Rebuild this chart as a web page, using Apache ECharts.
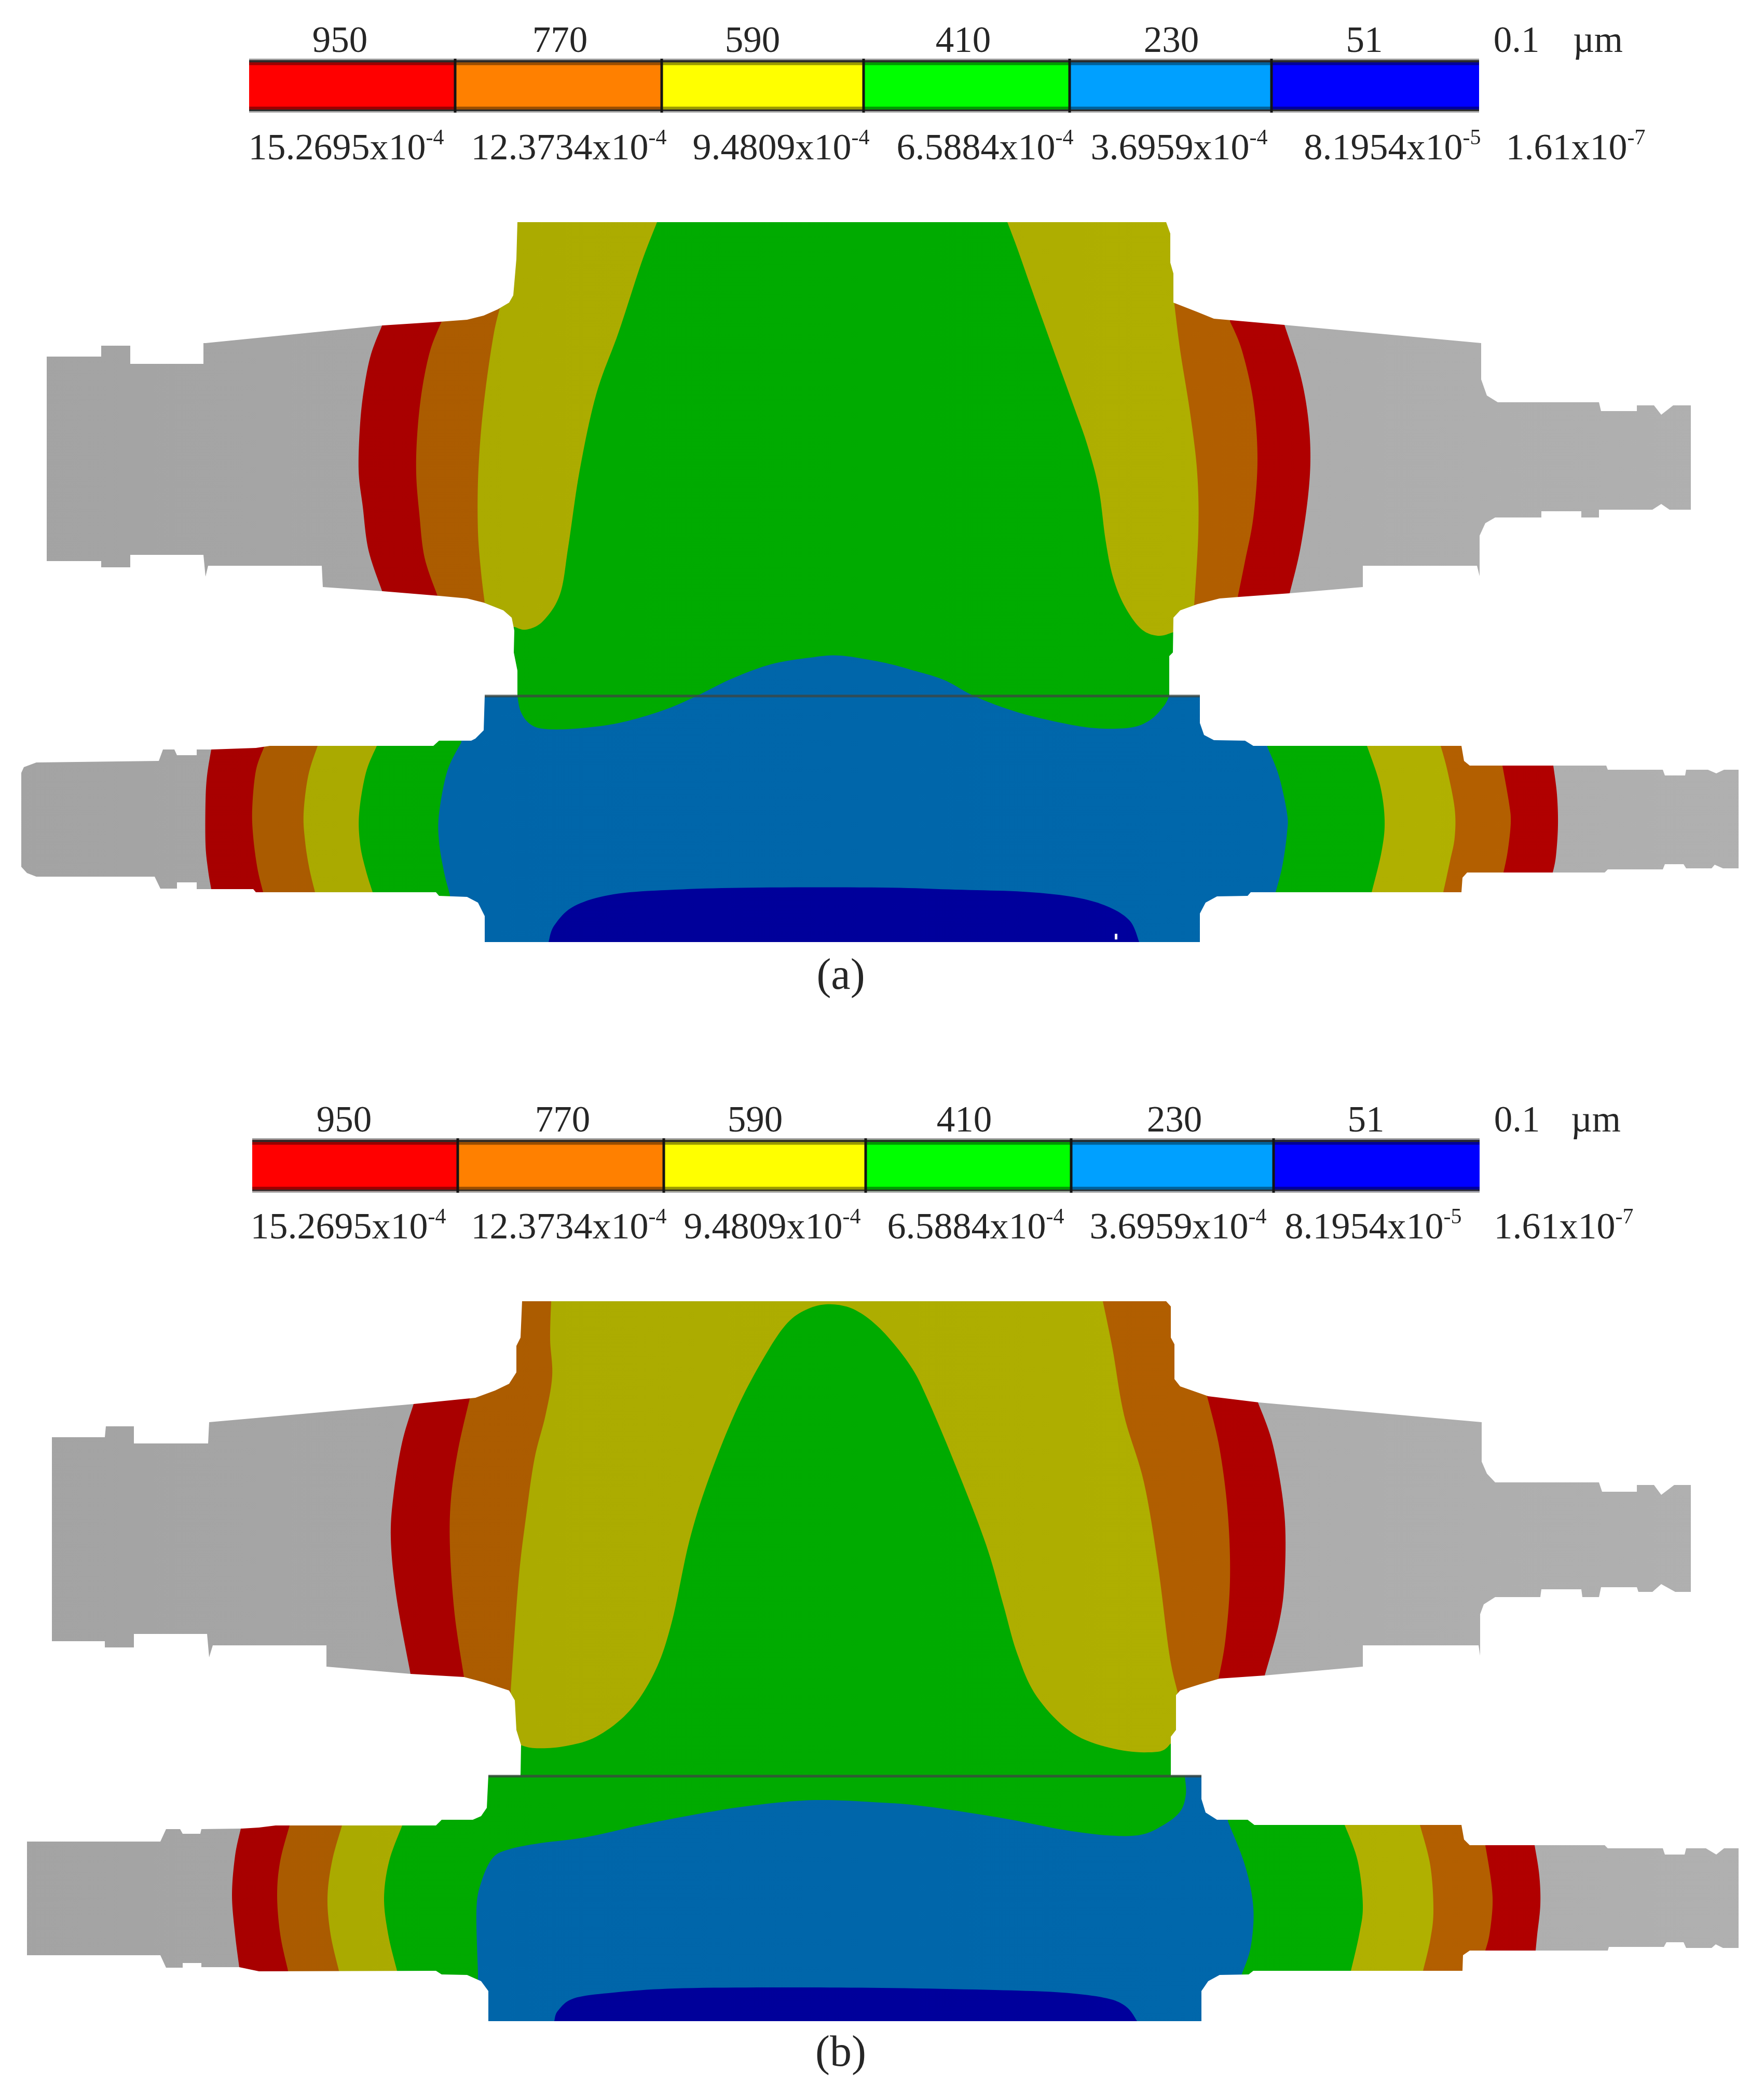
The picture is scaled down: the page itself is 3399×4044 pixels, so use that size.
<!DOCTYPE html>
<html>
<head>
<meta charset="utf-8">
<style>html,body{margin:0;padding:0;background:#fff}#c{width:3399px;height:4044px}</style>
<script src="https://cdn.jsdelivr.net/npm/echarts@6/dist/echarts.min.js"></script>
</head>
<body>
<div id="c"></div>
<script>
// ---------- text ----------
const topLabels = ['950','770','590','410','230','51','0.1','µm'];
const bottomMantissas = ['15.2695x10','12.3734x10','9.4809x10','6.5884x10','3.6959x10','8.1954x10','1.61x10'];
const bottomExponents = ['-4','-4','-4','-4','-4','-5','-7'];
const panelLabels = ['(a)','(b)'];
const barColors = ['#ff0000','#ff8000','#ffff00','#00ff00','#00a0ff','#0000ff'];

// ---------- colour bars ----------
const barEdgesA = [480,877,1275,1664,2061,2450,2850];
const barEdgesB = [486,882,1279,1668,2064,2454,2851];
const barSpanA = [113,217];
const barSpanB = [2193,2298];

// ---------- figure (a): outline of the two parts ----------
const aUpperLeftEdge = [[997,428],[995,499],[989,569],[981,583],[959,596],[932,608],[900,616],[846,620],[737,627],[396,661],[392,661],[392,701],[251,701],[251,666],[195,666],[195,687],[90,687],[90,1081],[195,1081],[195,1093],[251,1093],[251,1069],[392,1069],[396,1111],[401,1090],[620,1090],[622,1131],[737,1139],[846,1148],[900,1153],[932,1161],[970,1176],[986,1190],[991,1215],[990,1257],[997,1292],[997,1341]];
const aLowerLeftEdge = [[934,1341],[932,1407],[916,1423],[908,1427],[846,1427],[835,1437],[520,1437],[493,1441],[407,1444],[379,1444],[379,1455],[341,1455],[336,1444],[314,1444],[306,1466],[70,1469],[46,1478],[41,1489],[41,1670],[52,1682],[70,1689],[298,1689],[309,1712],[341,1712],[341,1700],[379,1700],[379,1713],[488,1713],[493,1719],[840,1719],[846,1726],[900,1728],[921,1739],[934,1765],[934,1815]];
const aLowerRightEdge = [[2312,1815],[2312,1760],[2323,1739],[2345,1727],[2404,1726],[2410,1719],[2816,1719],[2818,1691],[2827,1681],[3092,1681],[3098,1675],[3204,1675],[3208,1665],[3244,1665],[3249,1673],[3298,1673],[3304,1666],[3320,1673],[3350,1673],[3350,1483],[3322,1483],[3307,1490],[3291,1483],[3249,1483],[3247,1494],[3208,1494],[3204,1483],[3098,1483],[3095,1475],[2832,1475],[2821,1466],[2816,1437],[2415,1437],[2399,1427],[2339,1426],[2320,1416],[2312,1393],[2312,1341]];
const aUpperRightEdge = [[2253,1341],[2253,1264],[2260,1257],[2261,1190],[2274,1176],[2307,1164],[2350,1153],[2388,1150],[2485,1143],[2626,1131],[2626,1090],[2846,1090],[2851,1110],[2851,1032],[2862,1008],[2881,997],[2970,997],[2970,985],[3047,985],[3047,997],[3081,997],[3081,982],[3154,982],[3184,982],[3201,971],[3217,982],[3258,982],[3258,781],[3224,781],[3201,799],[3187,781],[3154,781],[3154,792],[3085,792],[3081,775],[2886,775],[2865,762],[2854,731],[2854,661],[2475,626],[2339,614],[2307,601],[2261,583],[2261,527],[2255,506],[2255,450],[2247,428]];

// figure (a), contour curves, upper part (top to bottom)
const aUpRedL = [[737,625],[715,682],[702,745],[694,815],[691,906],[699,976],[710,1060],[737,1141]];
const aUpOrgL = [[851,619],[829,675],[813,752],[804,836],[802,913],[808,990],[818,1074],[843,1148]];
const aUpYelL = [[963,594],[952,640],[938,731],[927,829],[921,927],[921,1025],[927,1103],[934,1162]];
const aUpYelR = [[2263,587],[2274,675],[2294,801],[2307,913],[2309,1025],[2301,1166]];
const aUpOrgR = [[2370,619],[2393,675],[2415,773],[2423,885],[2415,997],[2399,1081],[2385,1150]];
const aUpRedR = [[2475,626],[2505,720],[2520,800],[2525,880],[2520,960],[2505,1060],[2485,1143]];
const aGreenYellowL = [[1266,428],[1236,506],[1192,640],[1149,759],[1117,906],[1095,1053],[1079,1145],[1046,1197],[1014,1213],[992,1208]];
const aGreenBottom = [[997,1341],[1003,1370],[1019,1393],[1046,1404],[1106,1404],[1192,1393],[1279,1368],[1344,1340],[1409,1308],[1485,1280],[1561,1267],[1618,1263],[1700,1276],[1754,1290],[1819,1310],[1879,1342],[1960,1372],[2047,1393],[2112,1403],[2177,1402],[2215,1388],[2242,1361],[2253,1341]];
const aGreenYellowR = [[2261,1218],[2231,1225],[2198,1211],[2166,1166],[2144,1110],[2130,1039],[2117,941],[2095,857],[2068,780],[2025,661],[1987,555],[1960,478],[1941,428]];

// figure (a), contour curves, lower part (top to bottom)
const aLoRedL = [[407,1444],[399,1494],[396,1544],[396,1627],[401,1677],[407,1713]];
const aLoOrgL = [[509,1439],[493,1485],[486,1558],[488,1613],[496,1673],[507,1719]];
const aLoYelL = [[612,1437],[594,1494],[585,1567],[588,1622],[596,1673],[607,1719]];
const aLoGrnL = [[726,1437],[705,1489],[692,1567],[694,1627],[705,1677],[718,1719]];
const aLoBluL = [[889,1430],[862,1485],[846,1567],[846,1622],[856,1682],[867,1724]];
const aLoBluR = [[2442,1439],[2464,1494],[2480,1567],[2480,1604],[2471,1668],[2458,1719]];
const aLoGrnR = [[2634,1437],[2659,1512],[2668,1581],[2662,1641],[2643,1719]];
const aLoYelR = [[2776,1437],[2789,1485],[2803,1558],[2803,1613],[2794,1659],[2781,1719]];
const aLoOrgR = [[2895,1475],[2908,1549],[2911,1586],[2905,1641],[2897,1681]];
const aLoRedR = [[2993,1475],[3000,1530],[3002,1590],[2998,1650],[2992,1681]];
const aDome = [[1290,1335],[1290,1250],[1950,1250],[1950,1335]];
const aNavyTop = [[1057,1815],[1068,1783],[1106,1746],[1182,1723],[1301,1714],[1463,1710],[1700,1710],[1841,1714],[1971,1718],[2068,1728],[2133,1746],[2177,1774],[2195,1815]];
const aSpeck = [[2148,1799],[2153,1799],[2153,1810],[2148,1810]];

// ---------- figure (b): outline of the two parts ----------
const bUpperLeftEdge = [[1006,2507],[1003,2577],[995,2593],[995,2644],[981,2666],[954,2679],[916,2693],[797,2705],[403,2740],[401,2781],[258,2781],[258,2748],[204,2748],[202,2769],[100,2769],[100,3162],[202,3162],[202,3174],[258,3174],[258,3148],[399,3148],[403,3193],[410,3170],[629,3170],[629,3211],[791,3225],[894,3231],[932,3241],[981,3257],[992,3276],[995,3333],[1004,3362],[1003,3421]];
const bLowerLeftEdge = [[941,3421],[938,3483],[927,3499],[911,3506],[851,3506],[840,3517],[531,3517],[499,3521],[466,3523],[388,3524],[386,3533],[352,3533],[347,3524],[320,3524],[309,3548],[52,3548],[52,3767],[309,3767],[320,3791],[352,3791],[352,3782],[388,3782],[388,3790],[461,3790],[499,3798],[840,3797],[851,3804],[900,3805],[927,3817],[941,3836],[941,3894]];
const bLowerRightEdge = [[2315,3894],[2315,3836],[2328,3817],[2350,3805],[2406,3804],[2415,3797],[2818,3797],[2819,3767],[2832,3758],[3098,3758],[3100,3751],[3206,3751],[3211,3742],[3244,3742],[3249,3753],[3298,3753],[3306,3746],[3320,3753],[3350,3753],[3350,3561],[3322,3561],[3307,3573],[3287,3561],[3249,3561],[3246,3573],[3208,3573],[3204,3561],[3098,3561],[3092,3555],[2832,3555],[2821,3544],[2816,3516],[2417,3516],[2404,3506],[2345,3506],[2323,3492],[2315,3466],[2315,3421]];
const bUpperRightEdge = [[2256,3421],[2256,3346],[2266,3333],[2266,3266],[2274,3257],[2312,3245],[2350,3234],[2437,3228],[2626,3211],[2626,3170],[2849,3170],[2852,3190],[2852,3110],[2859,3091],[2881,3077],[2968,3077],[2970,3062],[3047,3062],[3049,3077],[3081,3077],[3085,3058],[3154,3058],[3157,3067],[3184,3067],[3201,3052],[3228,3067],[3258,3067],[3258,2861],[3226,2861],[3201,2880],[3187,2861],[3154,2861],[3154,2874],[3087,2874],[3081,2856],[2881,2856],[2865,2839],[2855,2816],[2855,2740],[2426,2702],[2328,2690],[2274,2671],[2263,2657],[2263,2590],[2256,2577],[2256,2517],[2247,2507]];

// figure (b), contour curves, upper part
const bUpRedL = [[797,2705],[775,2778],[759,2874],[753,2963],[764,3078],[791,3225]];
const bUpOrgL = [[905,2695],[883,2791],[869,2887],[867,2982],[876,3110],[894,3231]];
const bUpYelL = [[1062,2507],[1060,2580],[1064,2651],[1051,2727],[1030,2810],[1014,2919],[999,3046],[984,3257]];
const bUpYelR = [[2125,2507],[2144,2600],[2166,2727],[2204,2855],[2231,3014],[2253,3186],[2269,3260]];
const bUpOrgR = [[2326,2690],[2350,2791],[2366,2918],[2370,3046],[2361,3161],[2348,3234]];
const bUpRedR = [[2424,2702],[2453,2785],[2475,2918],[2475,3046],[2464,3129],[2437,3228]];
const bGreenTongue = [[1003,3362],[1030,3368],[1084,3365],[1149,3346],[1214,3295],[1263,3218],[1295,3123],[1328,2970],[1366,2848],[1420,2714],[1474,2612],[1518,2548],[1561,2520],[1604,2513],[1650,2525],[1700,2564],[1754,2631],[1787,2695],[1841,2823],[1900,2976],[1933,3091],[1960,3186],[1998,3269],[2068,3340],[2155,3371],[2231,3375],[2256,3359]];

// figure (b), contour curves, lower part
const bLoRedL = [[464,3523],[453,3575],[447,3651],[453,3727],[461,3790]];
const bLoOrgL = [[558,3517],[540,3585],[534,3651],[540,3727],[555,3797]];
const bLoYelL = [[659,3517],[640,3585],[631,3656],[637,3727],[653,3797]];
const bLoGrnL = [[775,3517],[750,3585],[740,3656],[748,3727],[765,3797]];
const bLoGrnR = [[2591,3516],[2616,3585],[2626,3670],[2619,3727],[2603,3797]];
const bLoYelR = [[2736,3516],[2756,3594],[2762,3680],[2756,3737],[2742,3797]];
const bLoOrgR = [[2862,3555],[2873,3623],[2876,3670],[2870,3727],[2862,3758]];
const bLoRedR = [[2957,3555],[2966,3613],[2968,3670],[2962,3727],[2959,3758]];
const bBlueTop = [[921,3803],[918,3680],[927,3627],[949,3580],[981,3563],[1041,3551],[1127,3540],[1236,3516],[1344,3495],[1453,3478],[1572,3468],[1700,3473],[1765,3478],[1852,3490],[1949,3506],[2047,3525],[2133,3536],[2198,3535],[2242,3516],[2274,3490],[2285,3457],[2283,3422]];
const bBlueRight = [[2366,3509],[2399,3594],[2415,3675],[2410,3751],[2393,3803]];
const bNavyTop = [[1068,3894],[1075,3874],[1106,3850],[1182,3839],[1301,3831],[1500,3829],[1700,3830],[1917,3834],[2047,3839],[2133,3850],[2171,3867],[2191,3894]];

// ---------- text placement ----------
const topLabelXA = [655,1079,1450,1856,2257,2629,2922,3079];
const topLabelXB = [663,1084,1455,1858,2263,2632,2923,3075];
const bottomLabelXA = [667,1096,1505,1898,2272,2683,3036];
const bottomLabelXB = [671,1096,1488,1880,2270,2646,3013];
const labelRowsA = [81,288];
const labelRowsB = [2161,2367];
const panelLabelPos = [[1620,1883],[1620,3958]];

// ---------- shades used on the contoured parts: left tint, right tint ----------
const shade = {
  gray:['#a3a3a3','#b0b0b0'], red:['#a60000','#b20000'], orange:['#a85a00','#b56000'],
  yellow:['#a8a800','#b2b200'], green:['#00a800','#00ae00'], blue:['#0064a8','#0068ac'], navy:['#000096','#0000a0']
};

// Catmull-Rom drawing of a contour curve between its read points
function spline(pts){
  const out=[]; const n=pts.length;
  for(let i=0;i<n-1;i++){
    const p0=pts[Math.max(i-1,0)],p1=pts[i],p2=pts[i+1],p3=pts[Math.min(i+2,n-1)];
    for(let k=0;k<10;k++){
      const t=k/10,t2=t*t,t3=t2*t;
      out.push([0,1].map(d=>0.5*(2*p1[d]+(p2[d]-p0[d])*t+(2*p0[d]-5*p1[d]+4*p2[d]-p3[d])*t2+(3*p1[d]-p0[d]-3*p2[d]+p3[d])*t3)));
    }
  }
  out.push(pts[n-1]);
  return out;
}
// region between a left and a right curve, run out straight up and down past the part
function band(L,R,top,bot,topPath){
  const l=spline(L), r=spline(R);
  return [[l[0][0],top],...(topPath||[]),[r[0][0],top],...r,[r[r.length-1][0],bot],[l[l.length-1][0],bot],...l.slice().reverse()];
}
const layers=[];
function add(points,c){layers.push({points,c});}

function rect(x0,y0,x1,y1){return [[x0,y0],[x1,y0],[x1,y1],[x0,y1]];}
function maskOf(outline,y0,y1){
  return [[0,y0],[3399,y0],[3399,y1],[0,y1],[0,y0],...outline,outline[0]];
}

// figure (a)
add(rect(0,395,3399,1850),'gray');
add(band(aUpRedL,aUpRedR,400,1300),'red');
add(band(aUpOrgL,aUpOrgR,400,1300),'orange');
add(band(aUpYelL,aUpYelR,400,1300),'yellow');
add(band(aLoRedL,aLoRedR,1335,1830),'red');
add(band(aLoOrgL,aLoOrgR,1335,1830),'orange');
add(band(aLoYelL,aLoYelR,1335,1830),'yellow');
add(band(aLoGrnL,aLoGrnR,1335,1830),'green');
add(band(aLoBluL,aLoBluR,1335,1830,aDome),'blue');
add([[1057,1830],...spline(aNavyTop),[2195,1830]],'navy');
add([[1266,400],...spline(aGreenYellowL),[985,1208],[985,1335],...spline(aGreenBottom),[2270,1335],[2270,1218],...spline(aGreenYellowR),[1941,400]],'green');
add(maskOf([...aUpperLeftEdge,...aLowerLeftEdge,...aLowerRightEdge,...aUpperRightEdge],395,1850),'white');
add(aSpeck,'white');

// figure (b)
add(rect(0,2470,3399,3925),'gray');
add(band(bUpRedL,bUpRedR,2480,3380),'red');
add(band(bUpOrgL,bUpOrgR,2480,3380),'orange');
add(band(bUpYelL,bUpYelR,2480,3380),'yellow');
add(band(bLoRedL,bLoRedR,3415,3910),'red');
add(band(bLoOrgL,bLoOrgR,3415,3910),'orange');
add(band(bLoYelL,bLoYelR,3415,3910),'yellow');
add(band(bLoGrnL,bLoGrnR,3415,3910),'green');
add([[921,3910],...spline(bBlueTop),[2283,3410],[2330,3410],[2330,3490],[2366,3500],...spline(bBlueRight),[2393,3910]],'blue');
add([[1068,3910],...spline(bNavyTop),[2191,3910]],'navy');
add([[990,3362],...spline(bGreenTongue),[2270,3359],[2270,3412],[2256,3424],[990,3424]],'green');
add(maskOf([...bUpperLeftEdge,...bLowerLeftEdge,...bLowerRightEdge,...bUpperRightEdge],2470,3925),'white');

const contactLines=[[[934,1341],[2312,1341]],[[941,3422],[2315,3422]]];

const chart=echarts.init(document.getElementById('c'),null,{renderer:'canvas'});
function fillFor(c){
  if(c==='white') return '#ffffff';
  return new echarts.graphic.LinearGradient(0,0,3399,0,[{offset:0,color:shade[c][0]},{offset:1,color:shade[c][1]}],true);
}
const FONT='"Liberation Serif"';
function textEl(api,x,y,text,size){
  const p=api.coord([x,y]);
  return {type:'text',style:{x:p[0],y:p[1],text,fill:'#262626',font:size+'px '+FONT,align:'center',verticalAlign:'middle'}};
}
function supEl(api,x,y,m,e){
  const p=api.coord([x,y]);
  return {type:'text',style:{x:p[0],y:p[1],text:'{a|'+m+'}{s|'+e+'}',align:'center',verticalAlign:'middle',
    rich:{a:{fontFamily:'Liberation Serif',fontSize:72,fill:'#262626',color:'#262626',lineHeight:84},
          s:{fontFamily:'Liberation Serif',fontSize:42,fill:'#262626',color:'#262626',verticalAlign:'top',lineHeight:84,padding:[0,0,22,0]}}}};
}
function barEls(api,edges,span){
  const els=[];
  for(let i=0;i<edges.length-1;i++){
    const a=api.coord([edges[i],span[0]]),b=api.coord([edges[i+1],span[1]]);
    els.push({type:'rect',shape:{x:a[0],y:a[1],width:b[0]-a[0],height:b[1]-a[1]},style:{fill:barColors[i]}});
  }
  const h=span[1]-span[0];
  [[0,.03,'#9c9c9c'],[.03,.07,'#2a2a2a'],[.07,.12,'rgba(0,0,0,.4)'],[.89,.94,'rgba(0,0,0,.4)'],[.94,.97,'#2a2a2a'],[.97,1,'#a8a8a8']].forEach(b=>{
    const p=api.coord([edges[0],span[0]+h*b[0]]),q=api.coord([edges[edges.length-1],span[0]+h*b[1]]);
    els.push({type:'rect',shape:{x:p[0],y:p[1],width:q[0]-p[0],height:q[1]-p[1]},style:{fill:b[2]}});
  });
  edges.slice(1,-1).forEach(x=>{
    const p=api.coord([x,span[0]]),q=api.coord([x,span[1]]);
    els.push({type:'line',shape:{x1:p[0],y1:p[1],x2:q[0],y2:q[1]},style:{stroke:'#141414',lineWidth:5}});
  });
  return els;
}

chart.setOption({
  animation:false,
  backgroundColor:'#ffffff',
  grid:{left:0,right:0,top:0,bottom:0},
  xAxis:{type:'value',min:0,max:3399,show:false},
  yAxis:{type:'value',min:0,max:4044,inverse:true,show:false},
  series:[
    {type:'custom',coordinateSystem:'cartesian2d',silent:true,clip:false,
     data:layers.map((l,i)=>[i]),
     encode:{x:0,y:0},
     renderItem(params,api){
       const l=layers[api.value(0)];
       return {type:'polygon',shape:{points:l.points.map(p=>api.coord(p))},style:{fill:fillFor(l.c)}};
     }},
    {type:'custom',coordinateSystem:'cartesian2d',silent:true,clip:false,z:3,
     data:contactLines.map((l,i)=>[i]),
     encode:{x:0,y:0},
     renderItem(params,api){
       const l=contactLines[api.value(0)];
       const a=api.coord(l[0]),b=api.coord(l[1]);
       return {type:'line',shape:{x1:a[0],y1:a[1],x2:b[0],y2:b[1]},style:{stroke:'rgba(60,70,65,.8)',lineWidth:5}};
     }},
    {type:'custom',coordinateSystem:'cartesian2d',silent:true,clip:false,z:4,
     data:[[0]],
     encode:{x:0,y:0},
     renderItem(params,api){
       const kids=[...barEls(api,barEdgesA,barSpanA),...barEls(api,barEdgesB,barSpanB)];
       topLabels.forEach((t,i)=>{
         kids.push(textEl(api,topLabelXA[i],labelRowsA[0],t,71));
         kids.push(textEl(api,topLabelXB[i],labelRowsB[0],t,71));
       });
       bottomMantissas.forEach((m,i)=>{
         kids.push(supEl(api,bottomLabelXA[i],labelRowsA[1],m,bottomExponents[i]));
         kids.push(supEl(api,bottomLabelXB[i],labelRowsB[1],m,bottomExponents[i]));
       });
       panelLabels.forEach((t,i)=>kids.push(textEl(api,panelLabelPos[i][0],panelLabelPos[i][1],t,84)));
       return {type:'group',children:kids};
     }}
  ]
});
</script>
</body>
</html>
